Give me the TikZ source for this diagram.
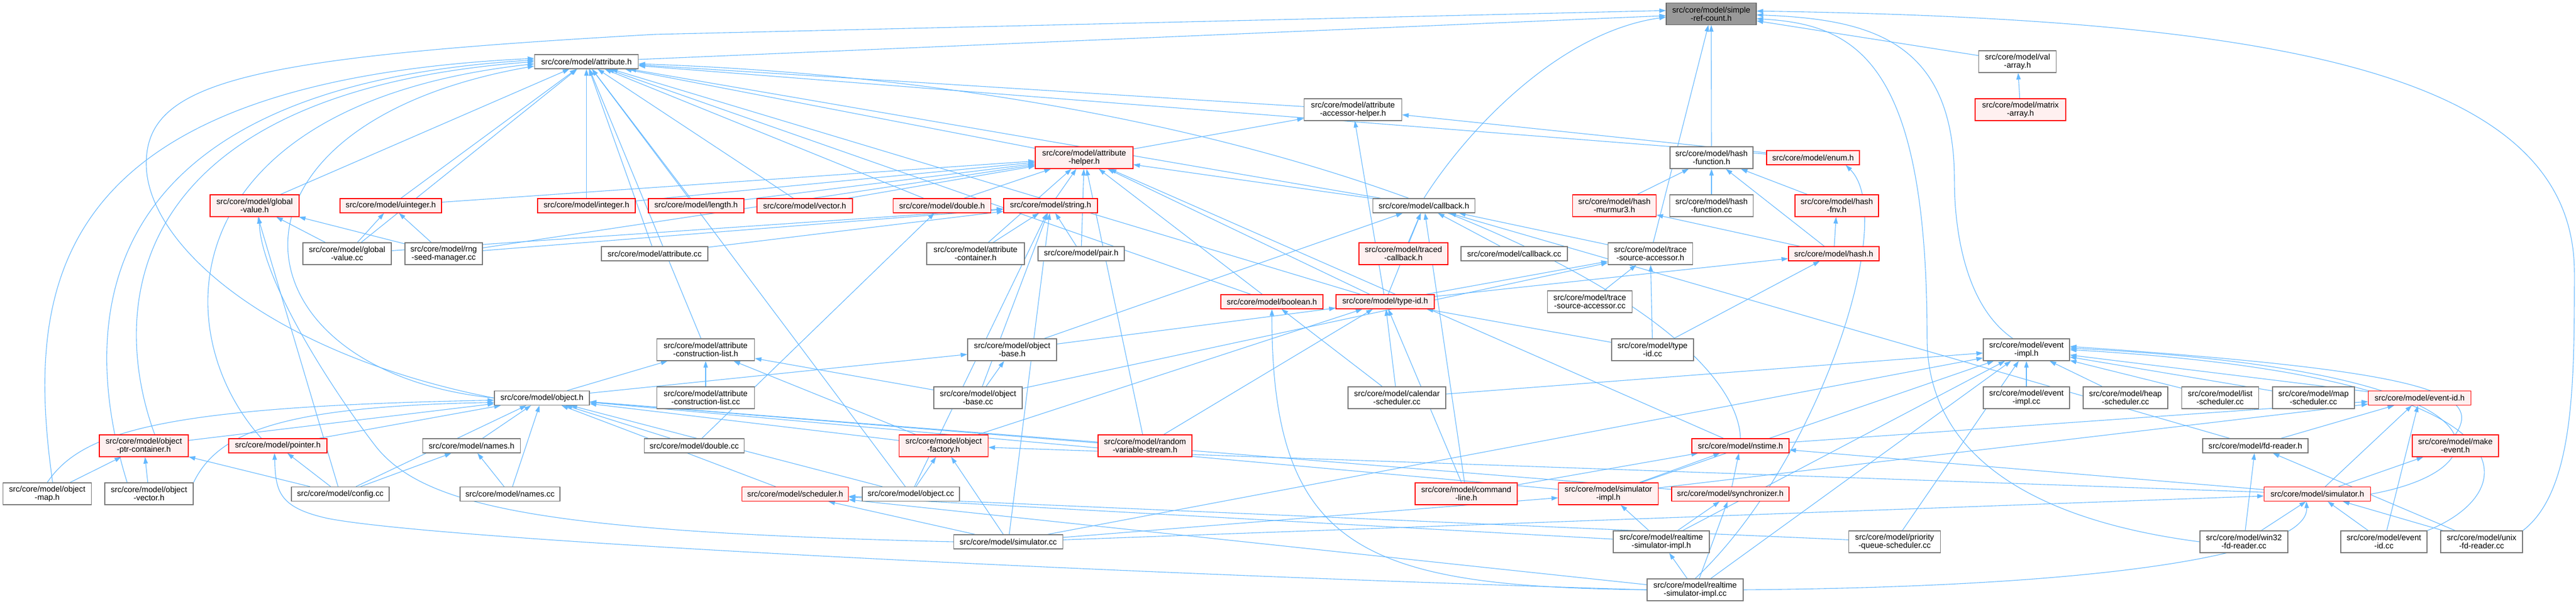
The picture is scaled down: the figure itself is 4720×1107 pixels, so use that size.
\documentclass[tikz,border=0pt]{standalone}
\usepackage{fontspec}
\setmainfont{Liberation Sans}
\usetikzlibrary{arrows.meta}
\definecolor{edgeblue}{HTML}{63B8FF}
\definecolor{boxgray}{HTML}{777777}
\definecolor{truncfill}{HTML}{FFF0F0}
\definecolor{rootfill}{HTML}{999999}
\definecolor{rootborder}{HTML}{666666}
\pgfdeclarelayer{bg}
\pgfsetlayers{bg,main}
\newcommand\nodefont{\fontsize{14.7}{15}\selectfont}
\begin{document}
\begin{tikzpicture}[x=1pt,y=-1pt,
  box/.style={draw=boxgray, fill=white, line width=1.3pt, inner sep=0pt, align=center, font=\nodefont},
  wd/.style={minimum width=#1pt},
  hone/.style={minimum height=26pt},
  htwo/.style={minimum height=40pt},
  trunc/.style={draw=red, fill=truncfill},
  rootn/.style={draw=rootborder, fill=rootfill},
  lnk/.style={draw=edgeblue, line width=1.1pt, -{Triangle[length=12pt,width=8pt]}}]
\useasboundingbox (0,0) rectangle (4720,1107);
% ---------- nodes ----------
\node[box,rootn,wd=165,htwo] (n0) at (3135.5,25.3) {src/core/model/simple\\-ref-count.h};
\node[box,wd=190,hone] (attr) at (1074.5,113) {src/core/model/attribute.h};
\node[box,wd=142,htwo] (valarr) at (3696.6,113) {src/core/model/val\\-array.h};
\node[box,wd=179,htwo] (accessor) at (2479,201) {src/core/model/attribute\\-accessor-helper.h};
\node[box,trunc,wd=166,htwo] (matrix) at (3702,201) {src/core/model/matrix\\-array.h};
\node[box,trunc,wd=179,htwo] (ahelper) at (1986.5,289) {src/core/model/attribute\\-helper.h};
\node[box,wd=152,htwo] (hashfn) at (3136,289) {src/core/model/hash\\-function.h};
\node[box,trunc,wd=170,hone] (enum) at (3322,289) {src/core/model/enum.h};
\node[box,trunc,wd=163,htwo] (gvh) at (466.5,377) {src/core/model/global\\-value.h};
\node[box,trunc,wd=186,hone] (uint) at (716,377) {src/core/model/uinteger.h};
\node[box,trunc,wd=179,hone] (int) at (1074.5,377) {src/core/model/integer.h};
\node[box,trunc,wd=175,hone] (length) at (1275.5,377) {src/core/model/length.h};
\node[box,trunc,wd=175,hone] (vector) at (1474.4,377) {src/core/model/vector.h};
\node[box,trunc,wd=179,hone] (double) at (1726,377) {src/core/model/double.h};
\node[box,trunc,wd=172,hone] (string) at (1925,377) {src/core/model/string.h};
\node[box,wd=187,hone] (callback) at (2609,377) {src/core/model/callback.h};
\node[box,trunc,wd=153,htwo] (murmur) at (2958,377) {src/core/model/hash\\-murmur3.h};
\node[box,wd=153,htwo] (hashfncc) at (3136,377) {src/core/model/hash\\-function.cc};
\node[box,trunc,wd=153,htwo] (fnv) at (3365.5,377) {src/core/model/hash\\-fnv.h};
\node[box,wd=162,htwo] (gvcc) at (636,465) {src/core/model/global\\-value.cc};
\node[box,wd=142,htwo] (rng) at (813,465) {src/core/model/rng\\-seed-manager.cc};
\node[box,wd=195,hone] (attrcc) at (1199.5,465) {src/core/model/attribute.cc};
\node[box,wd=179,htwo] (acont) at (1787.5,465) {src/core/model/attribute\\-container.h};
\node[box,wd=158,hone] (pair) at (1981,465) {src/core/model/pair.h};
\node[box,trunc,wd=163,htwo] (traced) at (2571.5,465) {src/core/model/traced\\-callback.h};
\node[box,wd=195,hone] (callbackcc) at (2774.5,465) {src/core/model/callback.cc};
\node[box,wd=155,htwo] (tsa) at (3024,465) {src/core/model/trace\\-source-accessor.h};
\node[box,trunc,wd=166,hone] (hash) at (3360,465) {src/core/model/hash.h};
\node[box,trunc,wd=187,hone] (boolean) at (2330.5,553) {src/core/model/boolean.h};
\node[box,trunc,wd=180,hone] (typeid) at (2538,553) {src/core/model/type-id.h};
\node[box,wd=155,htwo] (tsacc) at (2913,553) {src/core/model/trace\\-source-accessor.cc};
\node[box,wd=179,htwo] (acl) at (1293,641) {src/core/model/attribute\\-construction-list.h};
\node[box,wd=163,htwo] (obase) at (1854.5,641) {src/core/model/object\\-base.h};
\node[box,wd=150,htwo] (typeidcc) at (3028,641) {src/core/model/type\\-id.cc};
\node[box,wd=158,htwo] (eimpl) at (3713,641) {src/core/model/event\\-impl.h};
\node[box,wd=174,hone] (obj) at (993,729.5) {src/core/model/object.h};
\node[box,wd=179,htwo] (aclcc) at (1293,729) {src/core/model/attribute\\-construction-list.cc};
\node[box,wd=162,htwo] (obasecc) at (1792,729) {src/core/model/object\\-base.cc};
\node[box,wd=179,htwo] (calcc) at (2559.5,729) {src/core/model/calendar\\-scheduler.cc};
\node[box,wd=158,htwo] (eimplcc) at (3713,729) {src/core/model/event\\-impl.cc};
\node[box,wd=155,htwo] (heap) at (3894.5,729) {src/core/model/heap\\-scheduler.cc};
\node[box,wd=141,htwo] (list) at (4068,729) {src/core/model/list\\-scheduler.cc};
\node[box,wd=150,htwo] (map) at (4239,729) {src/core/model/map\\-scheduler.cc};
\node[box,trunc,wd=188,hone] (eid) at (4433.6,729.5) {src/core/model/event-id.h};
\node[box,trunc,wd=163,htwo] (optr) at (263.5,817) {src/core/model/object\\-ptr-container.h};
\node[box,trunc,wd=180,hone] (pointer) at (509,817) {src/core/model/pointer.h};
\node[box,wd=179,hone] (namesh) at (864,817) {src/core/model/names.h};
\node[box,wd=183,hone] (doublecc) at (1272,817) {src/core/model/double.cc};
\node[box,trunc,wd=163,htwo] (ofac) at (1729,817) {src/core/model/object\\-factory.h};
\node[box,trunc,wd=172,htwo] (rvs) at (2098,817) {src/core/model/random\\-variable-stream.h};
\node[box,trunc,wd=178,hone] (nstime) at (3189,817) {src/core/model/nstime.h};
\node[box,wd=193,hone] (fdr) at (4132.4,817) {src/core/model/fd-reader.h};
\node[box,trunc,wd=158,htwo] (mkev) at (4499,817) {src/core/model/make\\-event.h};
\node[box,wd=162,htwo] (omap) at (86.5,905) {src/core/model/object\\-map.h};
\node[box,wd=162,htwo] (ovec) at (273,905) {src/core/model/object\\-vector.h};
\node[box,wd=179,hone] (config) at (623.5,905.5) {src/core/model/config.cc};
\node[box,wd=183,hone] (namescc) at (934.5,905.5) {src/core/model/names.cc};
\node[box,trunc,wd=195,hone] (sched) at (1457,905.5) {src/core/model/scheduler.h};
\node[box,wd=178,hone] (objcc) at (1669,905.5) {src/core/model/object.cc};
\node[box,trunc,wd=187,htwo] (cmd) at (2686.5,905) {src/core/model/command\\-line.h};
\node[box,trunc,wd=183,htwo] (simimpl) at (2947,905) {src/core/model/simulator\\-impl.h};
\node[box,trunc,wd=215,hone] (sync) at (3170.5,905.5) {src/core/model/synchronizer.h};
\node[box,trunc,wd=195,hone] (sim) at (4246,905.5) {src/core/model/simulator.h};
\node[box,wd=200,hone] (simcc) at (1847.5,993) {src/core/model/simulator.cc};
\node[box,wd=176,htwo] (rtsimh) at (3044,993) {src/core/model/realtime\\-simulator-impl.h};
\node[box,wd=168,htwo] (pq) at (3471.5,993) {src/core/model/priority\\-queue-scheduler.cc};
\node[box,wd=161,htwo] (win32) at (4111.5,993) {src/core/model/win32\\-fd-reader.cc};
\node[box,wd=158,htwo] (eidcc) at (4368,993) {src/core/model/event\\-id.cc};
\node[box,wd=150,htwo] (unix) at (4547,993) {src/core/model/unix\\-fd-reader.cc};
\node[box,wd=176,htwo] (rtsimcc) at (3106,1081) {src/core/model/realtime\\-simulator-impl.cc};
% ---------- edges ----------
\begin{pgfonlayer}{bg}
\fill[white] (0,0) rectangle (4720,1107);
% into simple-ref-count.h
\foreach \s in {attr,valarr,hashfn,tsa} {\draw[lnk] (\s) -- (n0);}
\draw[lnk] (callback.north) .. controls (2680,250) and (2850,60) .. ([yshift=-6pt]n0.west);
\draw[lnk] (obj.west) .. controls (500,650) and (268,450) .. (268,300) .. controls (268,150) and (450,105) .. (1200,63) -- ([yshift=6pt]n0.west);
\draw[lnk] ([xshift=-25pt]eimpl.north) .. controls (3600,560) and (3581,420) .. (3581,330) .. controls (3581,70) and (3420,35) .. ([yshift=-2pt]n0.east);
\draw[lnk] (win32.west) .. controls (3700,950) and (3531,820) .. (3531,620) .. controls (3531,110) and (3400,45) .. ([yshift=-9pt]n0.east);
\draw[lnk] (unix.north east) .. controls (4717,900) and (4717,700) .. (4717,500) .. controls (4717,140) and (4200,35) .. ([yshift=5pt]n0.east);
\draw[lnk] (matrix) -- (valarr);
% into attribute.h
\foreach \s in {accessor,ahelper,gvh,uint,int,length,vector,double,callback,enum,boolean,typeid,attrcc,gvcc,acl,objcc} {\draw[lnk] (\s) -- (attr);}
\draw[lnk] (nstime.north) .. controls (3180,560) and (2400,160) .. ([yshift=-4pt]attr.east);
\draw[lnk] (obj.west) .. controls (420,680) and (362,230) .. ([yshift=-8pt]attr.west);
\draw[lnk] ([xshift=-30pt]pointer.north) .. controls (297,600) and (320,190) .. ([yshift=-4pt]attr.west);
\draw[lnk] ([xshift=20pt]optr.north) .. controls (197,560) and (230,170) .. ([yshift=0pt]attr.west);
\draw[lnk] ([xshift=-40pt]ovec.north) .. controls (145,600) and (150,160) .. ([yshift=3pt]attr.west);
\draw[lnk] ([xshift=10pt]omap.north) .. controls (45,520) and (90,150) .. ([yshift=6pt]attr.west);
% attribute-accessor-helper.h
\foreach \s in {ahelper,enum,typeid} {\draw[lnk] (\s) -- (accessor);}
% attribute-helper.h
\foreach \s in {uint,int,length,vector,double,string,callback,boolean,typeid,acont,pair,rvs,nstime,rng} {\draw[lnk] (\s) -- (ahelper);}
% hash-function.h
\foreach \s in {murmur,hashfncc,fnv,hash} {\draw[lnk] (\s) -- (hashfn);}
\draw[lnk] (rtsimcc.north) .. controls (3330,850) and (3480,400) .. ([xshift=60pt]enum.south);
% global-value.h
\foreach \s in {gvcc,rng,config} {\draw[lnk] (\s) -- (gvh);}
\draw[lnk] (simcc.west) .. controls (1000,975) and (780,930) .. (690,820) .. controls (620,730) and (480,520) .. ([xshift=8pt]gvh.south);
\foreach \s in {gvcc,rng} {\draw[lnk] (\s) -- (uint);}
\foreach \s in {gvcc,rng,attrcc,acont,pair,obasecc,objcc,simcc} {\draw[lnk] (\s) -- (string);}
\foreach \s in {traced,callbackcc,tsa,typeid,obase,fdr,cmd} {\draw[lnk] (\s) -- (callback);}
\draw[lnk] (hash) -- (murmur);
\draw[lnk] (hash) -- (fnv);
\foreach \s in {tsacc,typeid,typeidcc,obasecc} {\draw[lnk] (\s) -- (tsa);}
\foreach \s in {typeid,typeidcc} {\draw[lnk] (\s) -- (hash);}
\draw[lnk] (calcc) -- (boolean);
\draw[lnk] (rtsimcc.west) .. controls (2500,1075) and (2330,1010) .. (boolean.south);
\foreach \s in {obase,typeidcc,calcc,ofac,rvs,cmd} {\draw[lnk] (\s) -- (typeid);}
\foreach \s in {obj,aclcc,obasecc,ofac} {\draw[lnk] (\s) -- (acl);}
\foreach \s in {obj,obasecc} {\draw[lnk] (\s) -- (obase);}
% event-impl.h
\foreach \s in {eimplcc,heap,list,map,eid,calcc,pq,simimpl,simcc,rtsimh,rtsimcc} {\draw[lnk] (\s) -- (eimpl);}
\draw[lnk] (mkev.north) .. controls (4550,720) and (4450,680) .. ([yshift=6pt]eimpl.east);
\draw[lnk] (sim.east) .. controls (4600,860) and (4620,680) .. ([yshift=3pt]eimpl.east);
\draw[lnk] (eidcc.north east) .. controls (4630,900) and (4660,690) .. ([yshift=0pt]eimpl.east);
% object.h
\foreach \s in {optr,pointer,namesh,doublecc,ofac,rvs,config,namescc,sched,objcc,simimpl,sync} {\draw[lnk] (\s) -- (obj);}
\draw[lnk] (omap.north) .. controls (150,790) and (300,745) .. ([yshift=-4pt]obj.west);
\draw[lnk] (ovec.north east) .. controls (400,790) and (520,745) .. ([yshift=-8pt]obj.west);
% event-id.h
\foreach \s in {nstime,fdr,sim,simimpl,eidcc} {\draw[lnk] (\s) -- (eid);}
\foreach \s in {omap,ovec,config} {\draw[lnk] (\s) -- (optr);}
\draw[lnk] (config) -- (pointer);
\draw[lnk] (rtsimcc.west) .. controls (2000,1050) and (800,990) .. (600,950) .. controls (510,930) and (505,900) .. ([xshift=-6pt]pointer.south);
\foreach \s in {config,namescc} {\draw[lnk] (\s) -- (namesh);}
\draw[lnk] (doublecc) -- (double);
\foreach \s in {objcc,sim,simcc} {\draw[lnk] (\s) -- (ofac);}
\foreach \s in {cmd,simimpl,sync,sim} {\draw[lnk] (\s) -- (nstime);}
\foreach \s in {win32,unix} {\draw[lnk] (\s) -- (fdr);}
\draw[lnk] (sim) -- (mkev);
\foreach \s in {simcc,rtsimh,rtsimcc,pq} {\draw[lnk] (\s) -- (sched);}
\foreach \s in {simcc,rtsimh} {\draw[lnk] (\s) -- (simimpl);}
\foreach \s in {rtsimh,rtsimcc} {\draw[lnk] (\s) -- (sync);}
\foreach \s in {simcc,win32,eidcc,unix} {\draw[lnk] (\s) -- (sim);}
\draw[lnk] (rtsimcc.east) .. controls (3900,1075) and (4230,1010) .. ([xshift=-20pt]sim.south);
\draw[lnk] (rtsimcc) -- (rtsimh);
\end{pgfonlayer}
\end{tikzpicture}
\end{document}
